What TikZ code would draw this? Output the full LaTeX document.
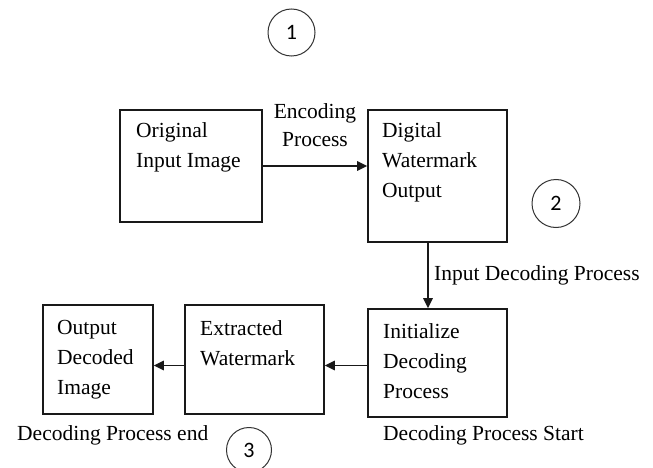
\documentclass[tikz,border=0pt]{standalone}
\usepackage{fontspec}
\setmainfont{Liberation Serif}
\newfontfamily\digitfont{Carlito}
\usetikzlibrary{arrows.meta}
\begin{document}
\begin{tikzpicture}[x=1pt,y=-1pt,
  box/.style={draw=black!90, line width=1.6pt, rectangle, inner sep=0pt},
  txt/.style={font=\fontsize{21.5}{30}\selectfont, align=left, inner sep=0pt, anchor=north west, text=black},
  lbl/.style={font=\fontsize{21.5}{28}\selectfont, inner sep=0pt, text=black},
  arr/.style={draw=black!90, line width=1.5pt, -{Triangle[length=10pt,width=9.5pt]}},
  num/.style={circle, draw=black!80, line width=1pt, inner sep=0pt, font=\digitfont\fontsize{22}{22}\selectfont}]
\useasboundingbox (0,0) rectangle (653,468);

% process boxes
\node[box, minimum width=142pt, minimum height=112pt] (orig) at (191,166) {};
\node[box, minimum width=139pt, minimum height=132pt] (wm)   at (437.5,176) {};
\node[box, minimum width=139pt, minimum height=108pt] (init) at (437.5,363) {};
\node[box, minimum width=139pt, minimum height=109pt] (extr) at (254.5,359.5) {};
\node[box, minimum width=110pt, minimum height=109pt] (outp) at (98,359.5) {};

% box captions
\node[txt] (origT) at (136,122.3) {Original\\Input Image};
\node[txt] (wmT)   at (382,122.3) {Digital\\Watermark\\Output};
\node[txt] (initT) at (383,323.3) {Initialize\\Decoding\\Process};
\node[txt] (extrT) at (200,320.3) {Extracted\\Watermark};
\node[txt] (outpT) at (57,320.3)  {Output\\Decoded\\Image};

% connector labels
\node[lbl, align=center, anchor=north] (enc) at (315,103.3) {Encoding\\Process};
\node[lbl, anchor=base west] (inDec) at (434,280) {Input Decoding Process};
\node[lbl, anchor=base west] (decStart) at (383,440) {Decoding Process Start};
\node[lbl, anchor=base west] (decEnd) at (17,440) {Decoding Process end};

% stage markers
\node[num, minimum size=47pt] (s1) at (291.5,32.5) {1};
\node[num, minimum size=48pt] (s2) at (556,203.5) {2};
\node[num, minimum size=45pt] (s3) at (249,450) {3};

% connectors
\coordinate (col) at (428,0);
\coordinate (row) at (0,365.5);
\draw[arr] (orig.east) -- (orig.east -| wm.west);
\draw[arr] (wm.south -| col) -- (init.north -| col);
\draw[arr] (init.west |- row) -- (extr.east |- row);
\draw[arr] (extr.west |- row) -- (outp.east |- row);
\end{tikzpicture}
\end{document}
